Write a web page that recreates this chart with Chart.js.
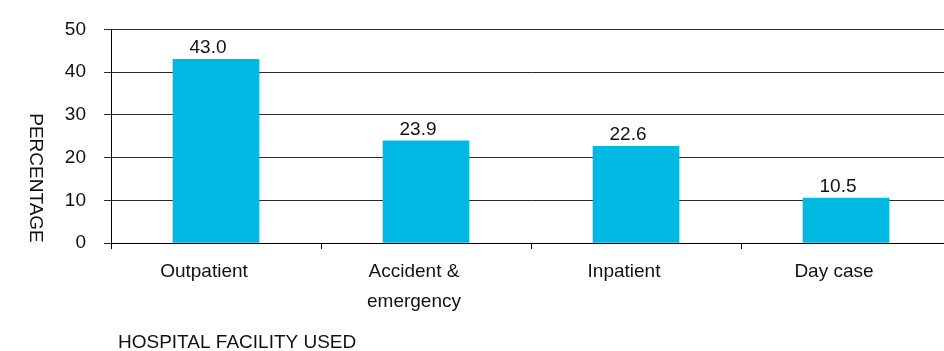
<!DOCTYPE html>
<html>
<head>
<meta charset="utf-8">
<script src="https://cdn.jsdelivr.net/npm/chart.js@4.4.1/dist/chart.umd.min.js"></script>
<style>
  html, body { margin: 0; padding: 0; background: #ffffff; overflow: hidden; }
  #wrap { width: 944px; height: 351px; overflow: hidden; position: relative; }
  canvas { display: block; }
</style>
</head>
<body>
<div id="wrap"><canvas id="c" width="952" height="351"></canvas></div>
<script>
// Hospital facility used, share of respondents (%)
const facilities = ['Outpatient', ['Accident &', 'emergency'], 'Inpatient', 'Day case'];
const percentages = [43.0, 23.9, 22.6, 10.5];
const yTickValues = [0, 10, 20, 30, 40, 50];
const yAxisTitle = 'PERCENTAGE';
const xAxisTitle = 'HOSPITAL FACILITY USED';

const FONT = "'Liberation Sans', Arial, Helvetica, sans-serif";
const TEXT = '#111111';
const BAR = '#00B9E3';

// Value printed above each bar (nudged slightly left of the bar centre)
const valueLabels = {
  id: 'valueLabels',
  afterDatasetsDraw(chart) {
    const { ctx } = chart;
    const meta = chart.getDatasetMeta(0);
    const data = chart.data.datasets[0].data;
    ctx.save();
    ctx.font = `19px ${FONT}`;
    ctx.fillStyle = TEXT;
    ctx.textAlign = 'center';
    ctx.textBaseline = 'alphabetic';
    meta.data.forEach((bar, i) => {
      ctx.fillText(Number(data[i]).toFixed(1), bar.x - 8, bar.y - 6);
    });
    ctx.restore();
  }
};

// Axis titles: vertical one reads top-to-bottom, horizontal one sits bottom-left
const axisTitles = {
  id: 'axisTitles',
  afterDraw(chart) {
    const { ctx, chartArea } = chart;
    ctx.save();
    ctx.font = `19px ${FONT}`;
    ctx.fillStyle = TEXT;
    ctx.textAlign = 'center';
    ctx.textBaseline = 'middle';
    ctx.translate(35, 178);
    ctx.rotate(Math.PI / 2);
    ctx.fillText(yAxisTitle, 0, 0);
    ctx.restore();

    ctx.save();
    ctx.font = `19px ${FONT}`;
    ctx.fillStyle = TEXT;
    ctx.textAlign = 'left';
    ctx.textBaseline = 'middle';
    ctx.fillText(xAxisTitle, chartArea.left + 7, 343);
    ctx.restore();
  }
};

new Chart(document.getElementById('c'), {
  type: 'bar',
  data: {
    labels: facilities,
    datasets: [{
      data: percentages,
      backgroundColor: BAR,
      borderWidth: 0,
      barThickness: 86
    }]
  },
  options: {
    responsive: false,
    animation: false,
    devicePixelRatio: 1,
    layout: { padding: { top: 27, right: 1, bottom: 0, left: 0 } },
    plugins: {
      legend: { display: false },
      tooltip: { enabled: false }
    },
    scales: {
      x: {
        grid: {
          offset: true,
          drawOnChartArea: false,
          drawTicks: true,
          tickLength: 6,
          color: '#000000',
          lineWidth: 1
        },
        border: { display: true, color: '#000000', width: 1 },
        ticks: {
          color: TEXT,
          padding: 8,
          labelOffset: -12,
          font: { family: FONT, size: 19, lineHeight: 1.58 }
        },
        afterFit(scale) { scale.height = 108; }
      },
      y: {
        min: 0,
        max: 50,
        afterBuildTicks(scale) {
          scale.ticks = yTickValues.map(v => ({ value: v }));
        },
        grid: {
          color: '#2a2a2a',
          lineWidth: 1,
          drawTicks: true,
          tickLength: 7
        },
        border: { display: true, color: '#000000', width: 1 },
        ticks: {
          color: TEXT,
          padding: 18,
          font: { family: FONT, size: 19 }
        },
        afterFit(scale) { scale.width = 111; }
      }
    }
  },
  plugins: [valueLabels, axisTitles]
});
</script>
</body>
</html>
